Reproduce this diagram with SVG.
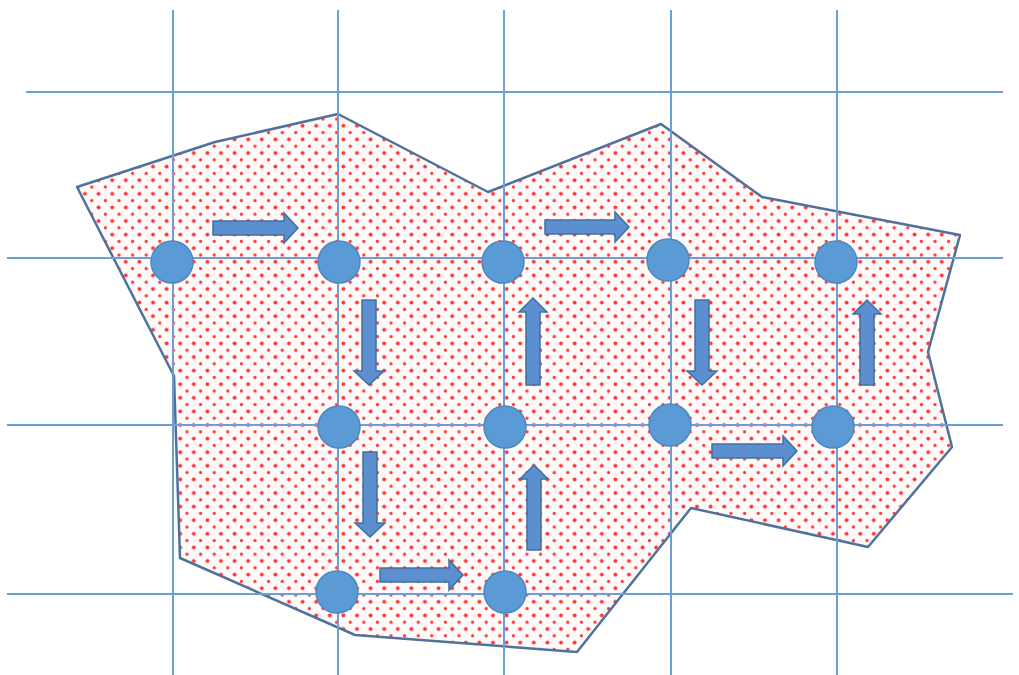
<svg xmlns="http://www.w3.org/2000/svg" width="1019" height="675" viewBox="0 0 1019 675">
<style>
.grid{stroke:#6a9fd8;stroke-width:2;fill:none}
.node{fill:#5b9bd5;stroke:#4f87c0;stroke-width:1.5}
.arr{fill:#5b8fcf;stroke:#41719c;stroke-width:1.5;stroke-linejoin:miter}
.region{fill:url(#dots);stroke:#50729a;stroke-width:2.5;stroke-linejoin:round}
</style>
<defs>
<pattern id="dots" patternUnits="userSpaceOnUse" x="0" y="0" width="13.6" height="13.6">
<rect width="13.6" height="13.6" fill="#fffafa"/>
<circle cx="3.4" cy="3.4" r="2" fill="#ff2020" opacity="0.9"/>
<circle cx="10.2" cy="10.2" r="1.6" fill="#ff2020" opacity="0.9"/>
</pattern>
</defs>
<rect width="1019" height="675" fill="#ffffff"/>
<g id="region">
<polygon class="region" points="77,187 215,142 338,114 488,192 661,124 762,197 960,235 928,352 952,447 868,547 691,508 577,652 355,635 180,558 174,376"/>
</g>
<g id="grid">
<line class="grid" x1="26" y1="92" x2="1003" y2="92"/>
<line class="grid" x1="7" y1="258" x2="1003" y2="258"/>
<line class="grid" x1="7" y1="425" x2="1003" y2="425"/>
<line class="grid" x1="7" y1="594" x2="1013" y2="594"/>
<line class="grid" x1="173" y1="10" x2="173" y2="675"/>
<line class="grid" x1="338" y1="10" x2="338" y2="675"/>
<line class="grid" x1="504" y1="10" x2="504" y2="675"/>
<line class="grid" x1="671" y1="10" x2="671" y2="675"/>
<line class="grid" x1="837" y1="10" x2="837" y2="675"/>
</g>
<g id="connectors">
<path class="arr" d="M213,221 H284 V213 L298,228 L284,243 V235 H213 Z"/>
<path class="arr" d="M545,220 H615 V212 L629,227 L615,242 V234 H545 Z"/>
<path class="arr" d="M712,444 H783 V436 L797,451 L783,466 V458 H712 Z"/>
<path class="arr" d="M380,568 H449 V560 L463,575 L449,590 V582 H380 Z"/>
<path class="arr" d="M362,300 V371 H354 L369,385 L384,371 H376 V300 Z"/>
<path class="arr" d="M695,300 V371 H687 L702,385 L717,371 H709 V300 Z"/>
<path class="arr" d="M363,452 V523 H355 L370,537 L385,523 H377 V452 Z"/>
<path class="arr" d="M526,385 V312 H519 L533,298 L547,312 H540 V385 Z"/>
<path class="arr" d="M860,385 V314 H853 L867,300 L881,314 H874 V385 Z"/>
<path class="arr" d="M527,550 V479 H520 L534,465 L548,479 H541 V550 Z"/>
</g>
<g id="n1"><circle class="node" cx="172" cy="262" r="21"/></g>
<g id="n2"><circle class="node" cx="339" cy="262" r="21"/></g>
<g id="n3"><circle class="node" cx="503" cy="262" r="21"/></g>
<g id="n4"><circle class="node" cx="668" cy="260" r="21"/></g>
<g id="n5"><circle class="node" cx="836" cy="262" r="21"/></g>
<g id="n6"><circle class="node" cx="339" cy="427" r="21"/></g>
<g id="n7"><circle class="node" cx="505" cy="427" r="21"/></g>
<g id="n8"><circle class="node" cx="670" cy="425" r="21"/></g>
<g id="n9"><circle class="node" cx="833" cy="427" r="21"/></g>
<g id="n10"><circle class="node" cx="337" cy="592" r="21"/></g>
<g id="n11"><circle class="node" cx="505" cy="592" r="21"/></g>
</svg>
